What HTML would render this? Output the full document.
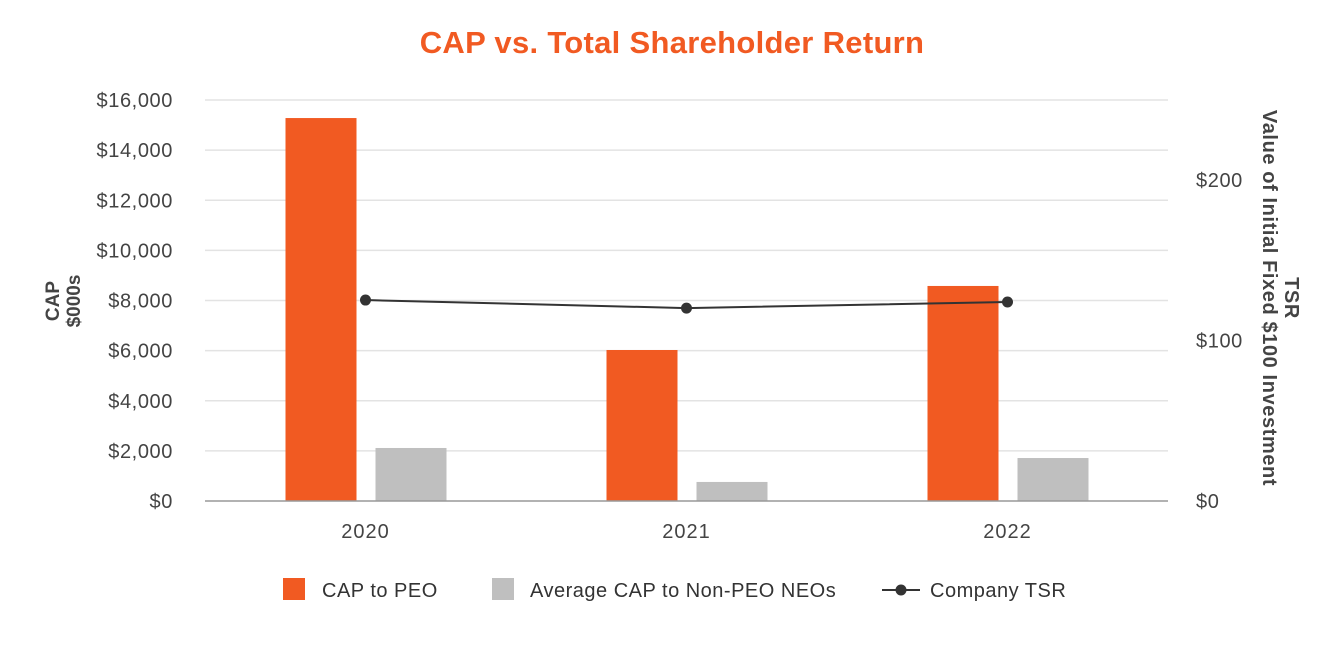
<!DOCTYPE html>
<html><head><meta charset="utf-8"><style>
body{margin:0;background:#fff;font-family:"Liberation Sans",Arial,sans-serif}
svg text{font-family:"Liberation Sans",Arial,sans-serif}
</style></head><body>
<svg id="c" width="1344" height="640">
<text x="672" y="53" text-anchor="middle" font-size="31" font-weight="bold" fill="#f15a22" letter-spacing="0.3">CAP vs. Total Shareholder Return</text>
<g id="grid"></g><g id="bars"></g><g id="line"></g><g id="axes"></g>
<text transform="translate(64,301) rotate(-90)" text-anchor="middle" font-size="19" font-weight="bold" fill="#444"><tspan x="0" dy="-5">CAP</tspan><tspan x="0" dy="21">$000s</tspan></text>
<text transform="translate(1280,298) rotate(90)" text-anchor="middle" font-size="20" font-weight="bold" fill="#444" letter-spacing="0.6"><tspan x="0" dy="-5">TSR</tspan><tspan x="0" dy="22">Value of Initial Fixed $100 Investment</tspan></text>
<g>
<rect x="283" y="578" width="22" height="22" fill="#f15a22"/>
<text x="322" y="597" font-size="20" letter-spacing="0.5" fill="#333">CAP to PEO</text>
<rect x="492" y="578" width="22" height="22" fill="#bfbfbf"/>
<text x="530" y="597" font-size="20" letter-spacing="0.5" fill="#333">Average CAP to Non-PEO NEOs</text>
<line x1="882" y1="590" x2="920" y2="590" stroke="#333" stroke-width="2"/>
<circle cx="901" cy="590" r="5.5" fill="#333"/>
<text x="930" y="597" font-size="20" letter-spacing="0.5" fill="#333">Company TSR</text>
</g>
</svg>
<script>
const categories=["2020","2021","2022"];
const capPeo=[15280,6025,8580];
const capNeo=[2115,760,1715];
const tsr=[125.2,120.2,124];
const leftTicks=[0,2000,4000,6000,8000,10000,12000,14000,16000];
const rightTicks=[0,100,200];
const NS="http://www.w3.org/2000/svg";
const x0=205,x1=1168,yb=501,yt=100;
const yL=v=>yb-(v/16000)*(yb-yt);
const yR=v=>yb-(v/100)*160.5;
const band=(x1-x0)/categories.length;
const xc=i=>x0+band*(i+0.5);
function mk(t,a,p){const e=document.createElementNS(NS,t);for(const k in a)e.setAttribute(k,a[k]);p.appendChild(e);return e;}
const g=document.getElementById('grid'),b=document.getElementById('bars'),l=document.getElementById('line'),ax=document.getElementById('axes');
leftTicks.forEach(v=>{
 if(v>0){const ln=mk('line',{x1:x0,x2:x1,y1:yL(v),y2:yL(v),stroke:'#e3e3e3','stroke-width':1.5},g);
 
 }
 const t=mk('text',{x:173,y:yL(v)+7,'text-anchor':'end','font-size':20,'letter-spacing':0.6,fill:'#444'},ax);
 t.textContent='$'+v.toLocaleString('en-US');
 
 
});
rightTicks.forEach(v=>{
 const t=mk('text',{x:1196,y:yR(v)+7,'font-size':20,'letter-spacing':0.6,fill:'#444'},ax);
 t.textContent='$'+v;
 
 
});
const base=mk('line',{x1:x0,x2:x1,y1:yb,y2:yb,stroke:'#999','stroke-width':1.5},ax);


categories.forEach((c,i)=>{
 const cx=xc(i);
 const r1=mk('rect',{x:cx-80,y:yL(capPeo[i]),width:71,height:yb-yL(capPeo[i]),fill:'#f15a22'},b);
 
 
 const r2=mk('rect',{x:cx+10,y:yL(capNeo[i]),width:71,height:yb-yL(capNeo[i]),fill:'#bfbfbf'},b);
 
 
 const t=mk('text',{x:cx,y:538,'text-anchor':'middle','font-size':20,'letter-spacing':1,fill:'#444'},ax);
 t.textContent=c;
 
 
});
const pl=mk('polyline',{points:tsr.map((v,i)=>xc(i)+','+yR(v)).join(' '),fill:'none',stroke:'#333','stroke-width':2},l);


tsr.forEach((v,i)=>{
 const c=mk('circle',{cx:xc(i),cy:yR(v),r:5.5,fill:'#333'},l);
 
 
});
</script>
</body></html>
